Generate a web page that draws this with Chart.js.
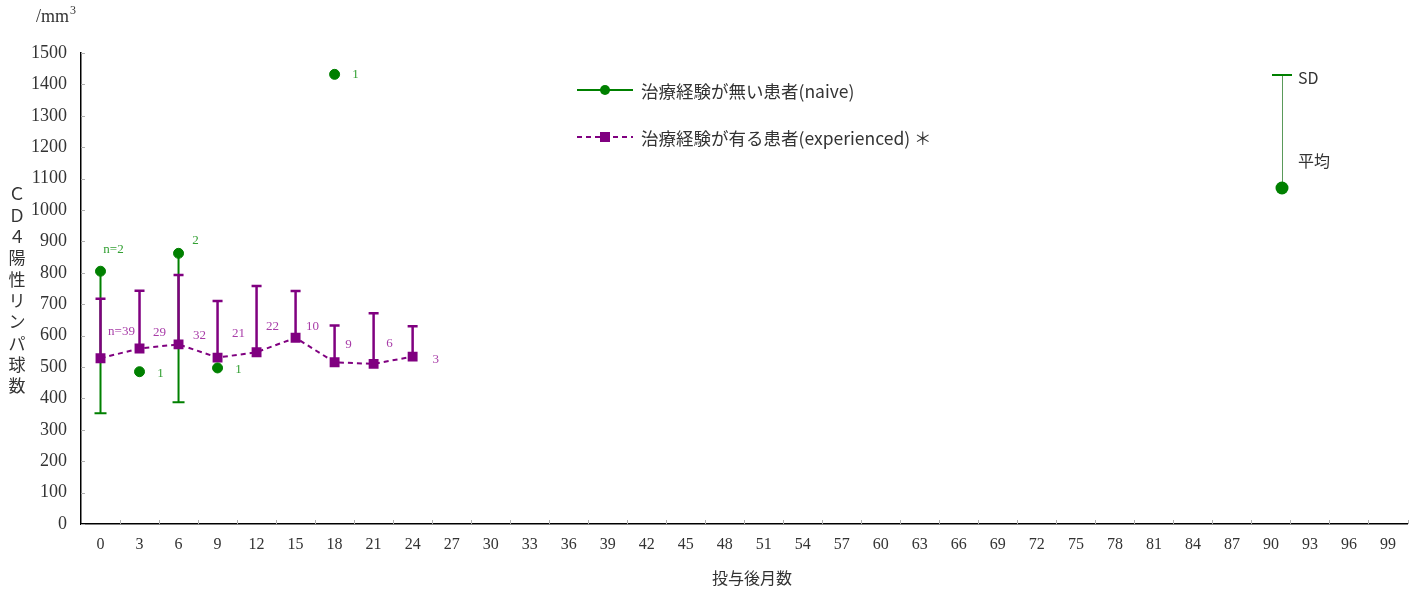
<!DOCTYPE html>
<html>
<head>
<meta charset="utf-8">
<script src="https://cdn.jsdelivr.net/npm/chart.js@4/dist/chart.umd.min.js"></script>
<style>
  html, body { margin: 0; padding: 0; background: #fff; }
  #wrap { width: 1420px; height: 592px; position: relative; }
</style>
</head>
<body>
<div id="wrap"><canvas id="ChartCanvas" width="1420" height="592"></canvas></div>
<script>
// 投与後月数 (0, 3, ... 99)
const months = []
for (let m = 0; m <= 99; m += 3) months.push(String(m))

// 治療経験が無い患者(naive): 平均 と SD(下側のみ)
const naiveMean = [805, 485, 862, 497, null, null, 1432]
const naiveSD   = [452, null, 474, null, null, null, null]
const naiveN    = ['n=2', '1', '2', '1', null, null, '1']

// 治療経験が有る患者(experienced): 平均 と SD(上側のみ)
const expMean = [528, 559, 572, 530, 547, 593, 515, 510, 533]
const expSD   = [189, 184, 221, 180, 211, 149, 117, 161, 97]
const expN    = ['n=39', '29', '32', '21', '22', '10', '9', '6', '3']

// ラベルの位置ずらし (px)
const naiveLabelOffset = [[13, -22], [21, 2], [17, -13], [21, 2], null, null, [21, 0]]
const expLabelOffset = [[21, -27], [20, -16], [21, -9], [21, -24], [16, -26], [17, -11], [14, -18], [16, -20], [23, 3]]

const GREEN = '#008000'
const PURPLE = '#800080'
const SERIF = '"Liberation Serif", "DejaVu Serif", serif'
const JP = '"Noto Sans CJK JP", sans-serif'

function errorBars(chart, dsIndex, sds, dir, color, capW, lw) {
    const ctx = chart.ctx
    const meta = chart.getDatasetMeta(dsIndex)
    const y = chart.scales.y
    ctx.save()
    ctx.strokeStyle = color
    ctx.lineWidth = lw
    meta.data.forEach((pt, i) => {
        const v = chart.data.datasets[dsIndex].data[i]
        if (v == null || sds[i] == null) return
        const yEnd = y.getPixelForValue(v + dir * sds[i])
        ctx.beginPath()
        ctx.moveTo(pt.x, pt.y)
        ctx.lineTo(pt.x, yEnd)
        ctx.moveTo(pt.x - capW / 2, yEnd)
        ctx.lineTo(pt.x + capW / 2, yEnd)
        ctx.stroke()
    })
    ctx.restore()
}

function countLabels(chart, dsIndex, texts, offsets, color) {
    const ctx = chart.ctx
    const meta = chart.getDatasetMeta(dsIndex)
    ctx.save()
    ctx.fillStyle = color
    ctx.font = '13px ' + SERIF
    ctx.textAlign = 'center'
    ctx.textBaseline = 'middle'
    meta.data.forEach((pt, i) => {
        if (!texts[i] || !offsets[i]) return
        ctx.fillText(texts[i], pt.x + offsets[i][0], pt.y + offsets[i][1])
    })
    ctx.restore()
}

const extras = {
    id: 'extras',
    beforeDatasetsDraw(chart) {
        errorBars(chart, 0, naiveSD, -1, GREEN, 12, 2)
        errorBars(chart, 1, expSD, 1, PURPLE, 10, 2.5)
    },
    afterDraw(chart) {
        const ctx = chart.ctx
        const a = chart.chartArea
        const xs = chart.scales.x
        const ys = chart.scales.y

        // 内側の目盛り
        ctx.save()
        ctx.strokeStyle = '#b0b0b0'
        ctx.lineWidth = 1
        ys.ticks.forEach(t => {
            const py = Math.round(ys.getPixelForValue(t.value)) + 0.5
            ctx.beginPath(); ctx.moveTo(a.left, py); ctx.lineTo(a.left + 4, py); ctx.stroke()
        })
        const half = (xs.getPixelForValue(1) - xs.getPixelForValue(0)) / 2
        for (let i = 0; i < months.length; i++) {
            const px = Math.round(xs.getPixelForValue(i) + half) + 0.5
            ctx.beginPath(); ctx.moveTo(px, a.bottom); ctx.lineTo(px, a.bottom - 4); ctx.stroke()
        }
        ctx.restore()

        countLabels(chart, 0, naiveN, naiveLabelOffset, '#33a033')
        countLabels(chart, 1, expN, expLabelOffset, '#a83ca8')

        ctx.save()
        ctx.fillStyle = '#333'
        ctx.textBaseline = 'middle'
        // 単位
        ctx.font = '18px ' + SERIF
        ctx.textAlign = 'left'
        ctx.fillText('/mm', 36, 17)
        const w = ctx.measureText('/mm').width
        ctx.font = '12px ' + SERIF
        ctx.fillText('3', 36 + w + 1, 11)
        // 縦書きの軸タイトル
        ctx.font = '17px ' + JP
        ctx.textAlign = 'center'
        const yTitle = ['Ｃ', 'Ｄ', '４', '陽', '性', 'リ', 'ン', 'パ', '球', '数']
        yTitle.forEach((c, i) => ctx.fillText(c, 17, 194 + i * 21.3))
        // x 軸タイトル
        ctx.font = '16px ' + JP
        ctx.fillText('投与後月数', 752, 578)

        // 凡例
        ctx.textAlign = 'left'
        ctx.font = '17.5px ' + JP
        ctx.strokeStyle = GREEN
        ctx.lineWidth = 2
        ctx.beginPath(); ctx.moveTo(577, 90); ctx.lineTo(633, 90); ctx.stroke()
        ctx.fillStyle = GREEN
        ctx.beginPath(); ctx.arc(605, 90, 5, 0, Math.PI * 2); ctx.fill()
        ctx.fillStyle = '#333'
        ctx.fillText('治療経験が無い患者(naive)', 641, 91)

        ctx.strokeStyle = PURPLE
        ctx.setLineDash([5, 4])
        ctx.beginPath(); ctx.moveTo(577, 137); ctx.lineTo(633, 137); ctx.stroke()
        ctx.setLineDash([])
        ctx.fillStyle = PURPLE
        ctx.fillRect(600, 132, 10, 10)
        ctx.fillStyle = '#333'
        ctx.fillText('治療経験が有る患者(experienced) ＊', 641, 138)

        // SD / 平均 の説明
        ctx.strokeStyle = '#5a9a5a'
        ctx.lineWidth = 1
        ctx.beginPath(); ctx.moveTo(1282.5, 75); ctx.lineTo(1282.5, 188); ctx.stroke()
        ctx.strokeStyle = GREEN
        ctx.lineWidth = 2
        ctx.beginPath(); ctx.moveTo(1272, 75); ctx.lineTo(1292, 75); ctx.stroke()
        ctx.fillStyle = GREEN
        ctx.beginPath(); ctx.arc(1282, 188, 6.5, 0, Math.PI * 2); ctx.fill()
        ctx.fillStyle = '#333'
        ctx.font = '16px ' + JP
        ctx.fillText('SD', 1298, 78)
        ctx.fillText('平均', 1298, 161)
        ctx.restore()
    }
}

function initChart() {
    const ctx = document.getElementById('ChartCanvas').getContext('2d')
    new Chart(ctx, {
        type: 'line',
        data: {
            labels: months,
            datasets: [{
                label: '治療経験が無い患者(naive)',
                data: naiveMean,
                showLine: false,
                pointStyle: 'circle',
                pointRadius: 5,
                pointBackgroundColor: GREEN,
                pointBorderColor: GREEN,
                borderColor: GREEN
            }, {
                label: '治療経験が有る患者(experienced) ＊',
                data: expMean,
                borderColor: PURPLE,
                borderWidth: 2,
                borderDash: [5, 4],
                pointStyle: 'rect',
                pointRadius: 7,
                pointBackgroundColor: PURPLE,
                pointBorderColor: PURPLE,
                pointBorderWidth: 0,
                tension: 0
            }]
        },
        options: {
            responsive: false,
            animation: false,
            layout: { padding: { top: 53, right: 12.5, bottom: 0, left: 0 } },
            plugins: {
                legend: { display: false },
                tooltip: { enabled: false }
            },
            scales: {
                x: {
                    type: 'category',
                    offset: true,
                    grid: { display: true, offset: true, drawOnChartArea: false, drawTicks: false },
                    border: { color: '#000', width: 1.5 },
                    ticks: { color: '#333', font: { family: SERIF, size: 16 }, padding: 11, autoSkip: false, maxRotation: 0 },
                    afterFit(s) { s.height = 68 }
                },
                y: {
                    min: 0,
                    max: 1500,
                    grid: { display: true, drawOnChartArea: false, drawTicks: false },
                    border: { color: '#000', width: 1.5 },
                    ticks: {
                        stepSize: 100, color: '#333', font: { family: SERIF, size: 18 }, padding: 14,
                        callback: v => String(v)
                    },
                    afterFit(s) { s.width = 81 }
                }
            }
        },
        plugins: [extras]
    })
}

initChart()
</script>
</body>
</html>
